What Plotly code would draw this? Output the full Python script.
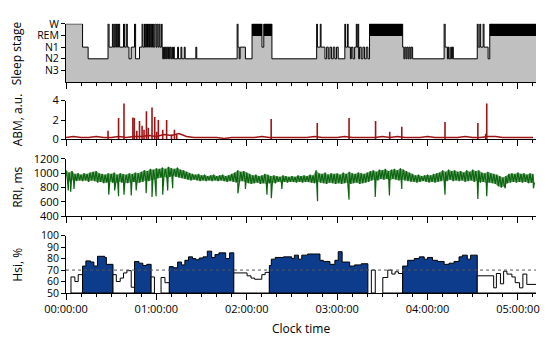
import plotly.graph_objects as go

T_END = 312.5  # minutes, end of recording

# ---------------- Hypnogram (minutes at stage change, stage code) ----------------
# codes: 1=N3, 2=N2, 3=N1, 4=REM, 5=W
stage_t = [0, 11.0, 14.7, 27.9, 28.6, 30.8, 31.4, 32.3, 33.0, 33.6, 34.3, 34.9, 35.6, 38.2, 38.9,
           40.0, 40.7, 41.8, 43.3, 45.5, 46.2, 48.8, 50.5, 51.1, 52.1, 52.7, 53.4, 54.1, 54.7, 55.4,
           56.0, 56.7, 57.4, 58.0, 58.9, 59.8, 60.4, 61.1, 61.8, 62.4, 63.3, 63.8, 64.2, 64.8, 65.3,
           65.7, 66.2, 66.8, 67.5, 68.0, 68.6, 69.1, 69.7, 70.3, 70.8, 71.4, 71.9, 74.1, 74.7, 76.3,
           76.9, 78.5, 79.1, 86.2, 86.8, 113.6, 114.2, 115.0, 115.6, 119.1, 123.5, 130.1, 131.3, 136.7,
           166.4, 166.9, 168.8, 169.3, 171.9, 173.0, 174.1, 175.2, 176.3, 177.4, 178.5, 179.6, 180.7,
           185.1, 185.6, 186.8, 187.3, 188.8, 189.4, 190.5, 191.6, 192.7, 193.2, 193.8, 194.3, 194.9,
           196.0, 197.1, 198.2, 199.3, 200.4, 201.5, 223.5, 224.3, 224.9, 225.7, 226.3, 227.1, 227.7,
           228.5, 229.1, 230.1, 251.0, 251.7, 253.2, 253.8, 254.3, 255.4, 256.0, 256.5, 257.1, 273.0,
           273.6, 274.7, 275.3, 276.9, 277.5, 280.2, 281.3]
stage_v = [5, 3, 2, 5, 3, 5, 3, 5, 3, 5, 3, 5, 3, 5, 3,
           5, 3, 2, 3, 5, 2, 3, 5, 3, 5, 3, 5, 3, 5, 3,
           5, 3, 5, 3, 5, 3, 5, 3, 5, 3, 5, 3, 2, 3, 2,
           3, 2, 3, 2, 3, 2, 3, 2, 3, 2, 3, 2, 3, 2, 3,
           2, 3, 2, 3, 2, 5, 3, 2, 3, 2, 4, 3, 4, 2,
           5, 3, 5, 3, 2, 3, 2, 3, 2, 3, 2, 3, 2,
           5, 3, 5, 3, 2, 3, 2, 3, 5, 3, 5, 2, 3,
           2, 3, 2, 3, 2, 4, 3, 2, 3, 2, 3, 2, 3,
           2, 3, 2, 5, 3, 2, 3, 2, 3, 2, 3, 2, 5,
           3, 5, 3, 5, 3, 2, 4]
stage_ticks = [1, 2, 3, 4, 5]
stage_names = ["N3", "N2", "N1", "REM", "W"]

# ---------------- ABM ----------------
abm_base_t = list(range(0, 315, 5))
abm_base = [0.2, 0.3, 0.2, 0.2, 0.3, 0.2, 0.2, 0.3, 0.2, 0.3,
            0.3, 0.4, 0.3, 0.5, 0.4, 0.6, 0.3, 0.2, 0.2, 0.2,
            0.2, 0.1, 0.2, 0.2, 0.2, 0.2, 0.3, 0.2, 0.2, 0.2,
            0.2, 0.2, 0.2, 0.3, 0.2, 0.2, 0.2, 0.3, 0.2, 0.2,
            0.2, 0.2, 0.3, 0.2, 0.3, 0.2, 0.2, 0.2, 0.3, 0.2,
            0.2, 0.2, 0.2, 0.3, 0.2, 0.2, 0.3, 0.3, 0.2, 0.2,
            0.2, 0.2, 0.2]
abm_spike_t = [27.9, 34.9, 38.5, 44.4, 45.3, 47.0, 48.8, 50.5, 51.8, 53.4, 54.6, 57.1, 58.9, 60.2,
               61.3, 64.2, 66.8, 70.0, 72.0, 73.5, 136.2, 166.8, 187.9, 205.5, 214.9, 222.9,
               251.6, 273.4, 278.6, 279.3]
abm_spike_v = [0.9, 2.2, 3.7, 2.25, 2.2, 0.9, 1.9, 1.4, 1.0, 2.9, 1.2, 3.3, 2.3, 0.8,
               2.0, 1.0, 2.0, 0.5, 1.0, 0.5, 2.1, 1.7, 2.2, 1.9, 0.8, 1.3,
               1.8, 1.7, 0.6, 3.7]

# ---------------- RRI (upper values at even minutes, lower at odd minutes, dips) ----------------
rri_hi_t = list(range(0, 312, 2))
rri_hi = [1040, 1010, 1030, 990, 1000, 980, 1000, 990, 1010, 1020,
          1030, 1000, 990, 980, 1000, 990, 1010, 980, 1000, 990,
          980, 1000, 990, 1010, 1000, 1020, 1040, 1030, 1060, 1050,
          1070, 1060, 1080, 1060, 1090, 1070, 1060, 1080, 1050, 1040,
          1020, 1000, 990, 980, 990, 970, 980, 960, 970, 980,
          960, 970, 980, 960, 970, 990, 1010, 1040, 1020, 1030,
          1010, 990, 970, 980, 960, 970, 990, 980, 960, 970,
          960, 950, 970, 960, 950, 960, 950, 970, 960, 970,
          960, 980, 970, 1040, 1000, 990, 1010, 980, 1000, 990,
          1000, 980, 1010, 990, 1020, 1000, 990, 1010, 1000, 990,
          1010, 1030, 1040, 1020, 1050, 1040, 1060, 1030, 1050, 1060,
          1040, 1070, 1050, 1030, 1010, 990, 970, 980, 960, 970,
          980, 970, 990, 1000, 1010, 1040, 1020, 1050, 1030, 1040,
          1020, 1030, 1010, 1040, 1020, 1050, 1030, 1040, 1010, 1000,
          1020, 1000, 990, 980, 960, 940, 960, 990, 1000, 990,
          1010, 990, 1000, 980, 1000, 990]
rri_lo_t = list(range(1, 312, 2))
rri_lo = [900, 880, 910, 890, 900, 890, 900, 880, 900, 890,
          870, 880, 860, 870, 880, 870, 860, 880, 870, 860,
          860, 870, 880, 860, 870, 880, 900, 890, 910, 920,
          930, 940, 950, 930, 950, 960, 950, 940, 930, 920,
          910, 900, 910, 900, 890, 900, 890, 900, 890, 900,
          890, 900, 890, 880, 890, 880, 870, 880, 890, 870,
          860, 850, 860, 870, 850, 860, 850, 860, 870, 860,
          880, 870, 880, 870, 880, 880, 870, 880, 870, 880,
          880, 870, 860, 880, 870, 860, 850, 870, 860, 850,
          860, 850, 860, 870, 850, 860, 870, 850, 860, 870,
          880, 900, 910, 900, 920, 910, 920, 900, 920, 910,
          900, 910, 900, 890, 880, 880, 870, 880, 890, 880,
          870, 880, 870, 880, 890, 900, 890, 910, 890, 900,
          890, 900, 880, 890, 900, 880, 890, 870, 880, 860,
          870, 860, 850, 820, 800, 820, 860, 870, 880, 870,
          880, 870, 880, 860, 870, 870]
rri_dip_t = [1.5, 3.1, 5.3, 28.4, 32.3, 34.9, 38.5, 43.3, 46.6, 53.2, 57.1, 59.8, 64.2, 67.5,
             70.8, 114.1, 119.1, 133.4, 136.3, 143.3, 167.0, 187.9, 205.3, 214.7, 222.9, 251.6,
             273.4, 279.3, 291.6, 310.3]
rri_dip_v = [760, 740, 780, 700, 760, 680, 700, 690, 760, 720, 670, 680, 700, 760,
             790, 720, 780, 700, 650, 780, 610, 630, 670, 690, 780, 700,
             640, 680, 790, 790]

# ---------------- Hsi (step segments) ----------------
hsi_start = [3.3, 5.9, 8.1, 11.0, 13.2, 16.3, 18.5, 20.9, 25.7, 26.8, 31.2, 33.4, 36.0, 38.2, 40.4,
             43.3, 45.5, 48.4, 51.0, 53.6, 56.5, 63.1, 65.7, 68.6, 71.2, 74.1, 76.7, 78.9, 81.3,
             84.0, 86.2, 88.4, 91.0, 93.8, 96.7, 98.9, 101.5, 106.0, 108.6, 111.4, 120.2, 122.8,
             125.2, 130.0, 132.2, 135.0, 136.3, 138.9, 144.4, 149.9, 151.6, 154.3, 156.5, 160.4,
             168.6, 170.8, 175.2, 178.5, 180.7, 183.3, 188.3, 191.6, 196.0, 202.7, 210.3, 213.6,
             216.3, 218.5, 220.7, 223.5, 226.8, 231.2, 234.5, 237.8, 240.0, 243.3, 246.6, 251.0,
             254.3, 257.6, 260.9, 263.1, 266.4, 268.6, 273.0, 283.9, 285.7, 288.4, 290.5, 292.7,
             296.0, 298.2, 301.1, 303.3, 305.9]
hsi_end = [5.9, 8.1, 11.0, 13.2, 16.3, 18.5, 20.9, 25.7, 26.8, 31.2, 33.4, 36.0, 38.2, 40.4, 43.3,
           45.5, 48.4, 51.0, 53.6, 56.5, 58.7, 65.7, 68.6, 71.2, 74.1, 76.7, 78.9, 81.3, 84.0,
           86.2, 88.4, 91.0, 93.8, 96.7, 98.9, 101.5, 106.0, 108.6, 111.4, 120.2, 122.8, 125.2,
           130.0, 132.2, 135.0, 136.3, 138.9, 144.4, 149.9, 151.6, 154.3, 156.5, 160.4, 168.6,
           170.8, 175.2, 178.5, 180.7, 183.3, 188.3, 191.6, 196.0, 200.4, 205.3, 213.6, 216.3,
           218.5, 220.7, 223.5, 226.8, 231.2, 234.5, 237.8, 240.0, 243.3, 246.6, 251.0, 254.3,
           257.6, 260.9, 263.1, 266.4, 268.6, 273.0, 283.9, 285.7, 288.4, 290.5, 292.7, 296.0,
           298.2, 301.1, 303.3, 305.9, 312.5]
hsi_value = [64, 60, 66, 73.5, 78, 77, 73.5, 82, 81, 75, 66, 60, 63, 67.5, 69.5,
             55, 77.5, 76, 74, 75, 64, 63.5, 59, 73, 72, 77, 74.5, 78.5, 81.5,
             80, 79, 80.5, 81.5, 86.5, 81, 83.5, 85, 80, 85, 67.5, 65, 63,
             62, 66, 68, 74, 79.5, 81, 81.5, 80, 83, 79.5, 83, 84,
             78.5, 77.5, 75, 78.5, 86, 77, 73.5, 74.5, 75.5, 70, 63.5, 70,
             66.5, 68.5, 67, 73.5, 78.5, 80, 81.5, 79.5, 81, 78.5, 77.5, 75,
             76, 77.5, 81.5, 83, 79.5, 83, 65, 54.5, 67, 58, 69, 66.5,
             64, 59, 54.5, 66.5, 57.5]
hsi_sleep = [0, 0, 0, 1, 1, 1, 1, 1, 1, 1, 0, 0, 0, 0, 0,
             0, 1, 1, 1, 1, 0, 0, 0, 1, 1, 1, 1, 1, 1,
             1, 1, 1, 1, 1, 1, 1, 1, 1, 1, 0, 0, 0,
             0, 0, 0, 1, 1, 1, 1, 1, 1, 1, 1, 1,
             1, 1, 1, 1, 1, 1, 1, 1, 1, 0, 0, 0,
             0, 0, 0, 1, 1, 1, 1, 1, 1, 1, 1, 1,
             1, 1, 1, 1, 1, 1, 0, 0, 0, 0, 0, 0,
             0, 0, 0, 0, 0]
hsi_threshold = 70

hour_ticks = [0, 60, 120, 180, 240, 300]
hour_labels = ["00:00:00", "01:00:00", "02:00:00", "03:00:00", "04:00:00", "05:00:00"]
minor_ticks = list(range(0, 313, 10))

FONT = "Open Sans"
GRAY = "#c0c0c0"
RED = "#9e1414"
GREEN = "#0b650f"
BLUE = "#0e3c8d"

fig = go.Figure()

# Hypnogram
fig.add_trace(go.Scatter(x=stage_t + [T_END], y=stage_v + [stage_v[-1]], mode="lines",
                         line=dict(color="black", width=1, shape="hv"), fill="tozeroy",
                         fillcolor=GRAY, xaxis="x", yaxis="y", hoverinfo="skip"))
rx, ry = [], []
for i, v in enumerate(stage_v):
    if v == 4:
        s = stage_t[i]
        e = stage_t[i + 1] if i + 1 < len(stage_t) else T_END
        rx += [s, s, e, e, s, None]
        ry += [4, 5, 5, 4, 4, None]
fig.add_trace(go.Scatter(x=rx, y=ry, mode="lines", fill="toself", fillcolor="black",
                         line=dict(color="black", width=1), xaxis="x", yaxis="y"))

# ABM
fig.add_trace(go.Scatter(x=abm_base_t, y=abm_base, mode="lines", line=dict(color=RED, width=1.5),
                         xaxis="x2", yaxis="y2"))
sx, sy = [], []
for t, v in zip(abm_spike_t, abm_spike_v):
    sx += [t, t, None]
    sy += [0, v, None]
fig.add_trace(go.Scatter(x=sx, y=sy, mode="lines", line=dict(color=RED, width=1.6),
                         xaxis="x2", yaxis="y2"))

# RRI: band between upper and lower values, plus the beat-to-beat trace with dips
band_x = rri_hi_t + rri_lo_t[::-1]
band_y = rri_hi + rri_lo[::-1]
fig.add_trace(go.Scatter(x=band_x, y=band_y, mode="lines", fill="toself",
                         fillcolor="rgba(11,101,15,0.6)", line=dict(width=0),
                         xaxis="x3", yaxis="y3"))
pts = sorted(list(zip(rri_hi_t, rri_hi)) + list(zip(rri_lo_t, rri_lo)) +
             list(zip(rri_dip_t, rri_dip_v)))
fig.add_trace(go.Scatter(x=[p[0] for p in pts], y=[p[1] for p in pts], mode="lines",
                         line=dict(color=GREEN, width=1.2), xaxis="x3", yaxis="y3"))

# Hsi
groups = []
for s, e, v, k in zip(hsi_start, hsi_end, hsi_value, hsi_sleep):
    if groups and groups[-1]["k"] == k and abs(groups[-1]["e"] - s) < 1e-6:
        groups[-1]["segs"].append((s, e, v))
        groups[-1]["e"] = e
    else:
        groups.append({"k": k, "e": e, "segs": [(s, e, v)]})
for g in groups:
    xs, ys = [g["segs"][0][0]], [50]
    for s, e, v in g["segs"]:
        xs += [s, e]
        ys += [v, v]
    xs += [g["segs"][-1][1], g["segs"][0][0]]
    ys += [50, 50]
    fig.add_trace(go.Scatter(x=xs, y=ys, mode="lines", fill="toself",
                             fillcolor=BLUE if g["k"] else "white",
                             line=dict(color="black", width=1), xaxis="x4", yaxis="y4"))

fig.add_shape(type="line", xref="x4", yref="y4", x0=0, x1=T_END, y0=hsi_threshold,
              y1=hsi_threshold, line=dict(color="#555555", width=1, dash="dot"), layer="above")

tickfont = dict(family=FONT, size=11, color="black")


def xax(anchor, labels):
    return dict(domain=[0, 1], anchor=anchor, range=[0, 312], showline=True, linecolor="black",
                linewidth=1, ticks="outside", tickmode="array", tickvals=hour_ticks,
                ticktext=hour_labels, ticklen=6, tickcolor="black", showticklabels=labels,
                showgrid=False, zeroline=False, tickfont=tickfont,
                minor=dict(tickmode="array", tickvals=minor_ticks, ticks="outside", ticklen=3,
                           tickcolor="black", showgrid=False))


def yax(anchor, dom, rng, tv, tt=None, size=11):
    d = dict(domain=dom, anchor=anchor, range=rng, showline=True, linecolor="black", linewidth=1,
             ticks="outside", ticklen=4, tickcolor="black", tickmode="array", tickvals=tv,
             showgrid=False, zeroline=False, tickfont=dict(family=FONT, size=size, color="black"))
    if tt:
        d["ticktext"] = tt
    return d


doms = {
    "y": [0.7668, 0.9788],
    "y2": [0.5583, 0.6996],
    "y3": [0.2792, 0.4876],
    "y4": [0.0, 0.2085],
}

fig.update_layout(
    width=550, height=340, margin=dict(l=66, r=11, t=10, b=47),
    paper_bgcolor="white", plot_bgcolor="white", showlegend=False,
    font=dict(family=FONT, color="black"),
    xaxis=xax("y", False), xaxis2=xax("y2", False), xaxis3=xax("y3", False), xaxis4=xax("y4", True),
    yaxis=yax("x", doms["y"], [0, 5], stage_ticks, stage_names, size=10.5),
    yaxis2=yax("x2", doms["y2"], [0, 4], [0, 2, 4]),
    yaxis3=yax("x3", doms["y3"], [400, 1200], [400, 600, 800, 1000, 1200]),
    yaxis4=yax("x4", doms["y4"], [50, 100], [50, 60, 70, 80, 90, 100], size=10.5),
)

titles = [("Sleep stage", doms["y"]), ("ABM, a.u.", doms["y2"]), ("RRI, ms", doms["y3"]),
          ("Hsi, %", doms["y4"])]
for txt, d in titles:
    fig.add_annotation(text=txt, xref="paper", yref="paper", x=-0.1036, y=(d[0] + d[1]) / 2,
                       textangle=-90, showarrow=False, xanchor="center", yanchor="middle",
                       font=dict(family=FONT, size=12, color="black"))
fig.add_annotation(text="Clock time", xref="paper", yref="paper", x=0.5, y=-0.1307,
                   showarrow=False, xanchor="center", yanchor="middle",
                   font=dict(family=FONT, size=12, color="black"))

fig.write_html("out.html", config={"displayModeBar": False},
               post_script="document.body.style.margin='0px';")
